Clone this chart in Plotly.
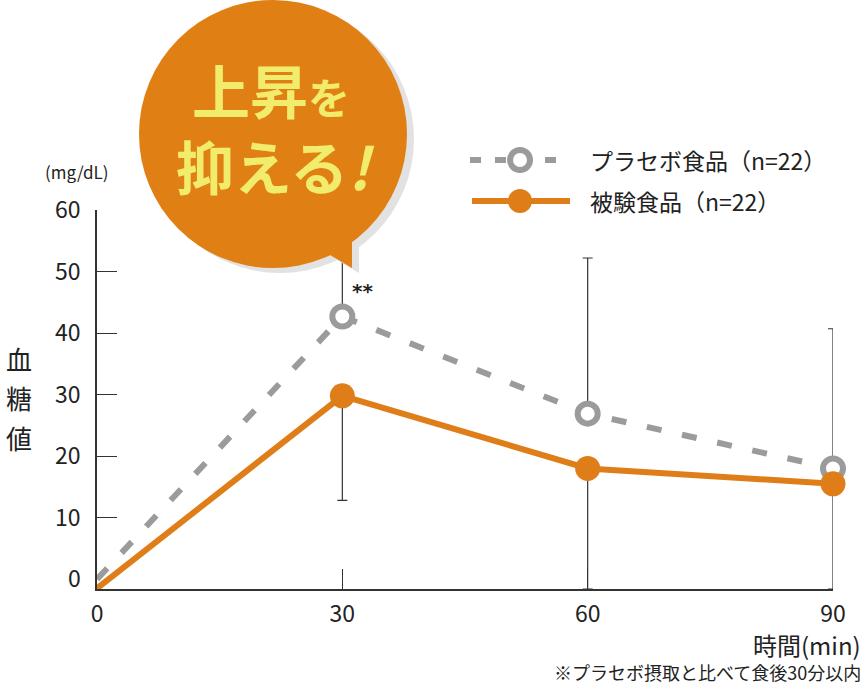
import plotly.graph_objects as go

# ---------------- data ----------------
time_min = [0, 30, 60, 90]
placebo = [0, 42.7, 26.9, 18.0]
test_food = [-1.5, 29.8, 18.0, 15.5]
placebo_err_plus = [15.0, 25.3, 22.7]      # at 30, 60, 90 (upper bars)
test_err_minus = [17.0, 19.6, 17.1]        # at 30, 60, 90 (lower bars)
x_ticks = [0, 30, 60, 90]
y_ticks = [0, 10, 20, 30, 40, 50, 60]
series_names = ["プラセボ食品（n=22）", "被験食品（n=22）"]

FONT = "Noto Sans CJK JP"
ORANGE = "#DF7E19"
BUBBLE = "#E07F14"
GRAY = "#9B9B9B"
DARK = "#333333"
YELLOW = "#F2EC6C"

W, H = 863, 687
L, R, T, B = 97, 833, 210, 589


def px(x):
    return (x - L) / (R - L)


def py(y):
    return (B - y) / (B - T)


fig = go.Figure()

# placebo line
fig.add_trace(go.Scatter(
    x=time_min, y=placebo, mode="lines",
    line=dict(color=GRAY, width=6, dash="15px,21px"),
    showlegend=False, hoverinfo="skip"))
# placebo markers + error bars
fig.add_trace(go.Scatter(
    x=time_min[1:], y=placebo[1:], mode="markers",
    marker=dict(symbol="circle", size=20, color="white",
                line=dict(color=GRAY, width=6)),
    error_y=dict(type="data", symmetric=False, array=placebo_err_plus,
                 arrayminus=[0, 0, 0], color=DARK, thickness=1.2, width=5),
    cliponaxis=False, showlegend=False))
# test line
fig.add_trace(go.Scatter(
    x=time_min, y=test_food, mode="lines",
    line=dict(color=ORANGE, width=6),
    showlegend=False, hoverinfo="skip"))
# test markers + error bars
fig.add_trace(go.Scatter(
    x=time_min[1:], y=test_food[1:], mode="markers",
    marker=dict(symbol="circle", size=25, color=ORANGE),
    error_y=dict(type="data", symmetric=False, array=[0, 0, 0],
                 arrayminus=test_err_minus, color=DARK, thickness=1.2, width=5),
    cliponaxis=False, showlegend=False))

shapes = []
# speech bubble shadow + bubble
cx, cy, r = 273, 134, 134
for dx, dy, col in [(7, 5, "#E2E2E2"), (0, 0, BUBBLE)]:
    shapes.append(dict(type="circle", xref="paper", yref="paper",
                       x0=px(cx - r + dx), x1=px(cx + r + dx),
                       y0=py(cy + r + dy), y1=py(cy - r + dy),
                       fillcolor=col, line=dict(width=0), layer="above"))
    pts = [(325 + dx, 252 + dy), (352 + dx, 268 + dy), (352 + dx, 236 + dy)]
    path = "M {} {} L {} {} L {} {} Z".format(
        px(pts[0][0]), py(pts[0][1]), px(pts[1][0]), py(pts[1][1]),
        px(pts[2][0]), py(pts[2][1]))
    shapes.append(dict(type="path", xref="paper", yref="paper", path=path,
                       fillcolor=col, line=dict(width=0), layer="above"))

# manual legend
shapes.append(dict(type="line", xref="paper", yref="paper",
                   x0=px(470), x1=px(570), y0=py(160), y1=py(160),
                   line=dict(color=GRAY, width=6, dash="11px,14px")))
shapes.append(dict(type="circle", xref="paper", yref="paper",
                   x0=px(510), x1=px(530), y0=py(170), y1=py(150),
                   fillcolor="white", line=dict(color=GRAY, width=6)))
shapes.append(dict(type="line", xref="paper", yref="paper",
                   x0=px(472), x1=px(570), y0=py(201), y1=py(201),
                   line=dict(color=ORANGE, width=6)))
shapes.append(dict(type="circle", xref="paper", yref="paper",
                   x0=px(508), x1=px(532), y0=py(213), y1=py(189),
                   fillcolor=ORANGE, line=dict(width=0)))

annotations = []


def ann(text, x, y, size, xanchor="center", yanchor="middle", color="#222222",
        weight=None, family=FONT, **kw):
    f = dict(family=family, size=size, color=color)
    if weight:
        f["weight"] = weight
    annotations.append(dict(text=text, x=px(x), y=py(y), xref="paper", yref="paper",
                            xanchor=xanchor, yanchor=yanchor, showarrow=False,
                            font=f, **kw))


ann(series_names[0], 588, 160, 23, xanchor="left")
ann(series_names[1], 588, 201, 23, xanchor="left")
ann("上昇<span style='font-size:42px'>を</span>", 271, 89, 58, color=YELLOW, weight=700)
ann("抑える<i>!</i>", 275, 165, 58, color=YELLOW, weight=700)
ann("(mg/dL)", 77, 172, 17)
ann("血", 19, 358, 26)
ann("糖", 19, 397, 26)
ann("値", 19, 437, 26)
ann("**", 362, 291, 20, weight=700, family="DejaVu Sans")
ann("時間(min)", 862, 644, 24, xanchor="right", borderpad=0)
ann("※プラセボ摂取と比べて食後30分以内", 862, 686, 18, xanchor="right",
    yanchor="bottom", borderpad=0)

fig.update_layout(
    width=W, height=H,
    margin=dict(l=L, r=W - R, t=T, b=H - B, pad=0),
    paper_bgcolor="white", plot_bgcolor="white",
    font=dict(family=FONT, size=23, color="#222222"),
    showlegend=False,
    shapes=shapes, annotations=annotations,
    xaxis=dict(range=[0, 90], tickvals=x_ticks, ticktext=[str(v) for v in x_ticks],
               ticks="inside", ticklen=20, tickwidth=1.2, tickcolor=DARK,
               showline=True, linecolor=DARK, linewidth=1.5, showgrid=False,
               zeroline=False, ticklabelstandoff=4,
               tickfont=dict(family=FONT, size=23, color="#222222")),
    yaxis=dict(range=[-1.6, 60], tickvals=y_ticks, ticktext=[str(v) for v in y_ticks],
               ticks="", showline=True, linecolor=DARK, linewidth=1.5,
               showgrid=False, zeroline=False, ticklabelstandoff=10,
               tickfont=dict(family=FONT, size=23, color="#222222")),
    yaxis2=dict(range=[-1.6, 60], overlaying="y", side="left",
                tickvals=y_ticks[1:], ticks="inside", ticklen=20, tickwidth=1.2,
                tickcolor=DARK, showticklabels=False, showline=False,
                showgrid=False, zeroline=False),
)
# invisible helper trace so that yaxis2 (tick marks only) is drawn
fig.add_trace(go.Scatter(x=[None], y=[None], yaxis="y2", showlegend=False,
                         hoverinfo="skip"))

fig.write_html(
    "out.html",
    config={"displayModeBar": False},
    post_script="document.body.style.margin='0';document.body.style.overflow='hidden';",
)
